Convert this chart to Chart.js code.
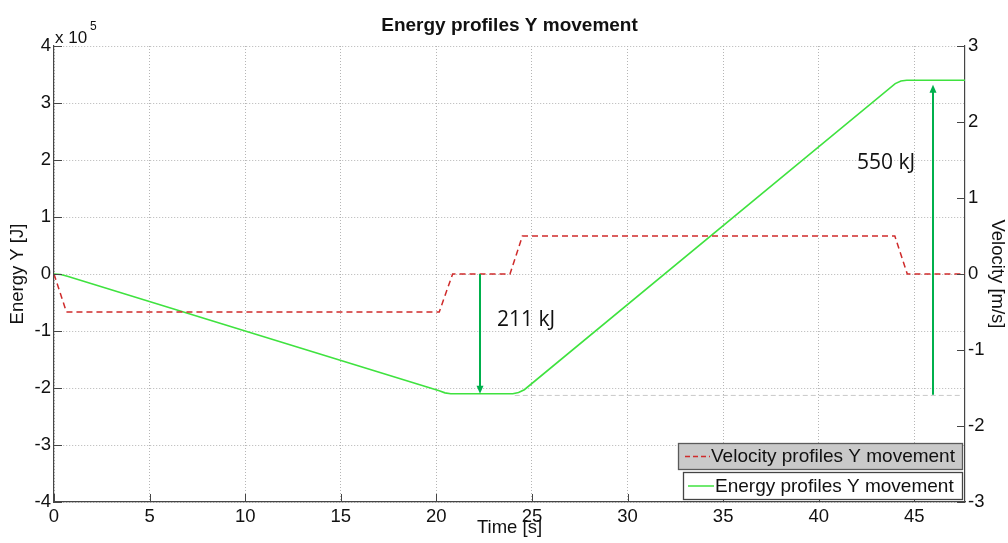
<!DOCTYPE html>
<html>
<head>
<meta charset="utf-8">
<script src="https://cdn.jsdelivr.net/npm/chart.js@4/dist/chart.umd.min.js"></script>
<style>
html,body{margin:0;padding:0;background:#fff;}
#wrap{width:1008px;height:543px;position:relative;}
</style>
</head>
<body>
<div id="wrap"><canvas id="c" width="1008" height="543"></canvas></div>
<script>
// ---- data ----
const titleText = 'Energy profiles Y movement';
const xTicks = [0, 5, 10, 15, 20, 25, 30, 35, 40, 45];
const yLeftTicks = [-4, -3, -2, -1, 0, 1, 2, 3, 4];
const yRightTicks = [-3, -2, -1, 0, 1, 2, 3];
const xMax = 47.65;

// velocity profile [m/s]
const velT = [0, 0.65, 20.15, 20.85, 23.85, 24.5, 43.98, 44.63, 47.65];
const velV = [0, -0.5, -0.5, 0, 0, 0.5, 0.5, 0, 0];

// energy profile [x 10^5 J]
const energyT = [0, 0.35, 0.7, 20.15, 20.45, 20.75, 24.0, 24.3, 24.6, 44.0, 44.3, 44.6, 47.65];
const energyE = [0, -0.01, -0.04, -2.05, -2.085, -2.1, -2.1, -2.08, -2.03, 3.34, 3.385, 3.40, 3.40];

// annotations
const arrowT = [22.28, 46.0];
const arrowFrom = [0, -2.12];
const arrowTo = [-2.1, 3.32];
const noteText = ['211 kJ', '550 kJ'];
const noteT = [23.17, 42.0];
const noteE = [-0.91, 1.84];
const refLineT = [24.1, 47.4];
const refLineE = -2.13;

const legendLabels = ['Velocity profiles Y movement', 'Energy profiles Y movement'];

// ---- chart ----
const FONT = '"Liberation Sans", Arial, sans-serif';
const velColor = '#cf2b2b';
const energyColor = '#3fe23f';
const arrowColor = '#00b04c';
const axisColor = '#454545';

const extras = {
  id: 'extras',
  beforeDraw(chart) {
    const ctx = chart.ctx;
    ctx.save();
    ctx.fillStyle = '#fff';
    ctx.fillRect(0, 0, chart.width, chart.height);
    ctx.restore();
  },
  afterDatasetsDraw(chart) {
    const ctx = chart.ctx;
    const xs = chart.scales.x, yl = chart.scales.y, yr = chart.scales.y2;
    const a = chart.chartArea;
    ctx.save();
    // reference dashed line
    ctx.strokeStyle = '#c9c9c9';
    ctx.lineWidth = 1;
    ctx.setLineDash([5, 3]);
    ctx.beginPath();
    ctx.moveTo(xs.getPixelForValue(refLineT[0]), yl.getPixelForValue(refLineE));
    ctx.lineTo(xs.getPixelForValue(refLineT[1]), yl.getPixelForValue(refLineE));
    ctx.stroke();
    ctx.setLineDash([]);

    // arrows
    ctx.strokeStyle = arrowColor;
    ctx.fillStyle = arrowColor;
    ctx.lineWidth = 2;
    for (let i = 0; i < arrowT.length; i++) {
      const x = Math.round(xs.getPixelForValue(arrowT[i]));
      const y0 = yl.getPixelForValue(arrowFrom[i]);
      const y1 = yl.getPixelForValue(arrowTo[i]);
      const dir = y1 > y0 ? 1 : -1;
      ctx.beginPath();
      ctx.moveTo(x, y0);
      ctx.lineTo(x, y1 - dir * 5);
      ctx.stroke();
      ctx.beginPath();
      ctx.moveTo(x, y1);
      ctx.lineTo(x - 3.5, y1 - dir * 8);
      ctx.lineTo(x + 3.5, y1 - dir * 8);
      ctx.closePath();
      ctx.fill();
    }
    // notes
    ctx.fillStyle = '#111';
    ctx.font = '21px "Open Sans", "DejaVu Sans", sans-serif';
    ctx.textAlign = 'left';
    ctx.textBaseline = 'alphabetic';
    for (let i = 0; i < noteText.length; i++) {
      ctx.fillText(noteText[i], xs.getPixelForValue(noteT[i]), yl.getPixelForValue(noteE[i]));
    }

    // inward ticks
    ctx.strokeStyle = axisColor;
    ctx.lineWidth = 1;
    ctx.beginPath();
    xTicks.forEach(v => {
      const x = Math.round(xs.getPixelForValue(v)) + 0.5;
      ctx.moveTo(x, a.bottom); ctx.lineTo(x, a.bottom - 8);
    });
    yLeftTicks.forEach(v => {
      const y = Math.round(yl.getPixelForValue(v)) + 0.5;
      ctx.moveTo(a.left, y); ctx.lineTo(a.left + 8, y);
    });
    yRightTicks.forEach(v => {
      const y = Math.round(yr.getPixelForValue(v)) + 0.5;
      ctx.moveTo(a.right, y); ctx.lineTo(a.right - 8, y);
    });
    ctx.stroke();

    // legend
    const boxes = [
      {x: 678, y: 443, w: 284, h: 26, fill: '#c9c9c9', stroke: '#5a5a5a', lx0: 685, lx1: 710, tx: 711, dash: [5, 3], color: velColor},
      {x: 683, y: 472, w: 279, h: 27, fill: '#ffffff', stroke: '#444', lx0: 688, lx1: 714, tx: 715, dash: [], color: energyColor}
    ];
    boxes.forEach((b, i) => {
      ctx.fillStyle = b.fill;
      ctx.fillRect(b.x, b.y, b.w, b.h);
      ctx.strokeStyle = b.stroke;
      ctx.lineWidth = 1.3;
      ctx.strokeRect(b.x + 0.5, b.y + 0.5, b.w, b.h);
      ctx.strokeStyle = b.color;
      ctx.lineWidth = 1.5;
      ctx.setLineDash(b.dash);
      ctx.beginPath();
      const ly = b.y + b.h / 2 + 0.5;
      ctx.moveTo(b.lx0, ly); ctx.lineTo(b.lx1, ly);
      ctx.stroke();
      ctx.setLineDash([]);
      ctx.fillStyle = '#111';
      ctx.font = '19px ' + FONT;
      ctx.textBaseline = 'middle';
      ctx.fillText(legendLabels[i], b.tx, b.y + b.h / 2 + 1);
    });

    // title
    ctx.fillStyle = '#111';
    ctx.textAlign = 'center';
    ctx.textBaseline = 'alphabetic';
    ctx.font = 'bold 19px ' + FONT;
    ctx.fillText(titleText, (a.left + a.right) / 2, 31);

    // exponent
    ctx.textAlign = 'left';
    ctx.font = '17px ' + FONT;
    ctx.fillText('x 10', 55, 43);
    ctx.font = '12px ' + FONT;
    ctx.fillText('5', 90, 30);
    ctx.restore();
  }
};

const gridCommon = {color: '#b5b5b5', lineWidth: 1, drawTicks: false, tickLength: 0};

new Chart(document.getElementById('c'), {
  type: 'line',
  data: {
    datasets: [
      {
        label: legendLabels[0],
        data: velT.map((t, i) => ({x: t, y: velV[i]})),
        yAxisID: 'y2',
        borderColor: velColor,
        borderWidth: 1.5,
        borderDash: [6, 4],
        pointRadius: 0,
        tension: 0,
        fill: false
      },
      {
        label: legendLabels[1],
        data: energyT.map((t, i) => ({x: t, y: energyE[i]})),
        yAxisID: 'y',
        borderColor: energyColor,
        borderWidth: 1.6,
        pointRadius: 0,
        tension: 0,
        fill: false
      }
    ]
  },
  options: {
    responsive: false,
    animation: false,
    devicePixelRatio: 1,
    layout: {padding: {top: 46, left: 0, right: 0, bottom: 0}},
    plugins: {legend: {display: false}, title: {display: false}, tooltip: {enabled: false}},
    scales: {
      x: {
        type: 'linear',
        min: 0, max: xMax,
        afterBuildTicks: s => { s.ticks = xTicks.map(v => ({value: v})); },
        afterFit: s => { s.height = 41; },
        grid: gridCommon,
        border: {display: true, color: axisColor, width: 1.2, dash: [1, 2]},
        ticks: {color: '#111', font: {family: FONT, size: 18.5}, padding: 4, maxRotation: 0, autoSkip: false},
        title: {display: true, text: 'Time [s]', color: '#111', font: {family: FONT, size: 18.5}, padding: {top: 0, bottom: 4}}
      },
      y: {
        type: 'linear',
        position: 'left',
        min: -4, max: 4,
        afterBuildTicks: s => { s.ticks = yLeftTicks.map(v => ({value: v})); },
        afterFit: s => { s.width = 54; },
        grid: gridCommon,
        border: {display: true, color: axisColor, width: 1.2, dash: [1, 2]},
        ticks: {color: '#111', font: {family: FONT, size: 18.5}, padding: 3, autoSkip: false},
        title: {display: true, text: 'Energy Y [J]', color: '#111', font: {family: FONT, size: 18.5}, padding: {top: 7, bottom: 0}}
      },
      y2: {
        type: 'linear',
        position: 'right',
        min: -3, max: 3,
        afterBuildTicks: s => { s.ticks = yRightTicks.map(v => ({value: v})); },
        afterFit: s => { s.width = 43; },
        grid: {display: false, drawTicks: false, tickLength: 0},
        border: {display: true, color: axisColor, width: 1.2},
        ticks: {color: '#111', font: {family: FONT, size: 18.5}, padding: 3, autoSkip: false},
        title: {display: true, text: 'Velocity [m/s]', color: '#111', font: {family: FONT, size: 18.5}, padding: {top: 0, bottom: 0}}
      }
    }
  },
  plugins: [extras]
});
</script>
</body>
</html>
